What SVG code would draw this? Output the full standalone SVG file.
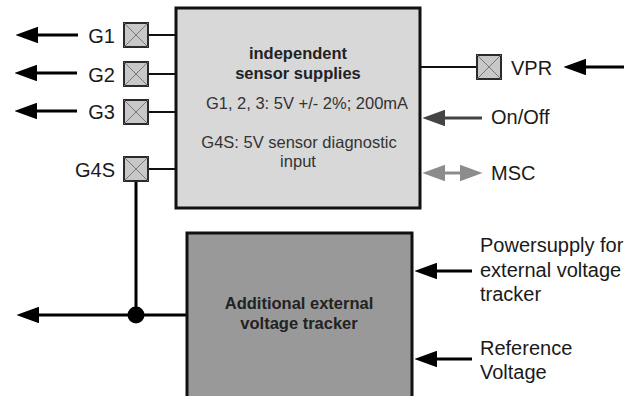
<svg xmlns="http://www.w3.org/2000/svg" width="643" height="396" viewBox="0 0 643 396">
<style>
text{font-family:"Liberation Sans",Arial,sans-serif;fill:#1a1a1a}
.lbl{font-size:20px}
.inner{font-size:16.5px;fill:#333}
.b{font-weight:bold;fill:#222}
.pin{fill:#c8c8c8;stroke:#2a2a2a;stroke-width:2}
.x{stroke:#777;stroke-width:1}
.w{stroke:#111;stroke-width:2;fill:none}
.a{stroke:#000;stroke-width:3;fill:none}
</style>
<defs>
<marker id="ah" markerWidth="7.5" markerHeight="5.5" refX="0" refY="2.75" orient="auto" markerUnits="strokeWidth" viewBox="0 0 7.5 5.5">
<path d="M0,0 L7.5,2.75 L0,5.5 Z" fill="#000"/>
</marker>
<marker id="ahd" markerWidth="7.5" markerHeight="5.5" refX="0" refY="2.75" orient="auto" markerUnits="strokeWidth" viewBox="0 0 7.5 5.5">
<path d="M0,0 L7.5,2.75 L0,5.5 Z" fill="#444"/>
</marker>
<marker id="ahg" markerWidth="7.5" markerHeight="5.5" refX="0" refY="2.75" orient="auto-start-reverse" markerUnits="strokeWidth" viewBox="0 0 7.5 5.5">
<path d="M0,0 L7.5,2.75 L0,5.5 Z" fill="#8c8c8c"/>
</marker>
</defs>

<g id="connectors">
<line class="w" x1="148" y1="35" x2="176" y2="35"/>
<line class="w" x1="148" y1="74" x2="176" y2="74"/>
<line class="w" x1="148" y1="112" x2="176" y2="112"/>
<line class="w" x1="148" y1="169" x2="176" y2="169"/>
<line class="w" x1="420" y1="67" x2="477" y2="67"/>
<line class="a" x1="78" y1="35" x2="38" y2="35" marker-end="url(#ah)"/>
<line class="a" x1="77" y1="73" x2="37" y2="73" marker-end="url(#ah)"/>
<line class="a" x1="77" y1="111" x2="37" y2="111" marker-end="url(#ah)"/>
<line class="a" x1="624" y1="67" x2="586" y2="67" marker-end="url(#ah)"/>
<line x1="482" y1="118" x2="445" y2="118" stroke="#444" stroke-width="3" marker-end="url(#ahd)"/>
<line x1="460" y1="173" x2="445" y2="173" stroke="#8c8c8c" stroke-width="3" marker-start="url(#ahg)" marker-end="url(#ahg)"/>
<line class="a" x1="136" y1="182" x2="136" y2="315"/>
<line class="a" x1="187" y1="315" x2="39" y2="315" marker-end="url(#ah)"/>
<circle cx="136" cy="315" r="8.5" fill="#000"/>
<line class="a" x1="472" y1="271" x2="437" y2="271" marker-end="url(#ah)"/>
<line class="a" x1="472" y1="359" x2="437" y2="359" marker-end="url(#ah)"/>
</g>

<g id="sensor-supplies">
<rect x="176" y="8" width="244" height="200" fill="#d8d8d8" stroke="#111" stroke-width="3"/>
<text class="inner b" x="298" y="59" text-anchor="middle">independent</text>
<text class="inner b" x="298" y="79" text-anchor="middle">sensor supplies</text>
<text class="inner" x="307" y="109" text-anchor="middle">G1, 2, 3: 5V +/- 2%; 200mA</text>
<text class="inner" x="299" y="148" text-anchor="middle">G4S: 5V sensor diagnostic</text>
<text class="inner" x="298" y="167" text-anchor="middle">input</text>
</g>

<g id="voltage-tracker">
<rect x="187" y="233" width="225" height="170" fill="#999" stroke="#111" stroke-width="3"/>
<text class="inner b" x="299" y="309" text-anchor="middle">Additional external</text>
<text class="inner b" x="299" y="329" text-anchor="middle">voltage tracker</text>
</g>

<g id="pin-G1">
<rect class="pin" x="124" y="23" width="24" height="24"/>
<path class="x" d="M124,23 L148,47 M148,23 L124,47"/>
<text class="lbl" x="115" y="43" text-anchor="end">G1</text>
</g>
<g id="pin-G2">
<rect class="pin" x="124" y="62" width="24" height="24"/>
<path class="x" d="M124,62 L148,86 M148,62 L124,86"/>
<text class="lbl" x="115" y="82" text-anchor="end">G2</text>
</g>
<g id="pin-G3">
<rect class="pin" x="124" y="100" width="24" height="24"/>
<path class="x" d="M124,100 L148,124 M148,100 L124,124"/>
<text class="lbl" x="115" y="119" text-anchor="end">G3</text>
</g>
<g id="pin-G4S">
<rect class="pin" x="124" y="157" width="24" height="24"/>
<path class="x" d="M124,157 L148,181 M148,157 L124,181"/>
<text class="lbl" x="115" y="177" text-anchor="end">G4S</text>
</g>
<g id="pin-VPR">
<rect class="pin" x="477" y="55" width="24" height="24"/>
<path class="x" d="M477,55 L501,79 M501,55 L477,79"/>
<text class="lbl" x="511" y="75">VPR</text>
</g>

<g id="label-onoff"><text class="lbl" x="491" y="124">On/Off</text></g>
<g id="label-msc"><text class="lbl" x="491" y="180">MSC</text></g>
<g id="label-powersupply">
<text class="lbl" x="480" y="252">Powersupply for</text>
<text class="lbl" x="480" y="277">external voltage</text>
<text class="lbl" x="480" y="301">tracker</text>
</g>
<g id="label-reference">
<text class="lbl" x="480" y="355">Reference</text>
<text class="lbl" x="480" y="379">Voltage</text>
</g>
</svg>
